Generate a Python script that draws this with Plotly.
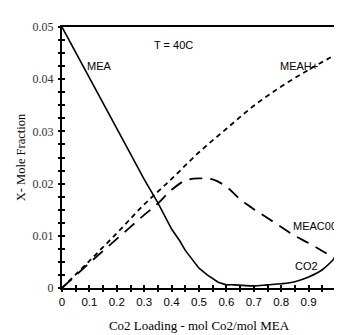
import plotly.graph_objects as go

# ---- data ----
mea_x = [0, 0.05, 0.10, 0.15, 0.20, 0.25, 0.30, 0.35, 0.40, 0.43, 0.45, 0.48, 0.50, 0.53, 0.57, 0.60]
mea_y = [0.0500, 0.0452, 0.0404, 0.0355, 0.0306, 0.0257, 0.0208, 0.0163, 0.0113, 0.0090, 0.0072, 0.0051, 0.0038, 0.0025, 0.0011, 0.0006]

co2_x = [0.60, 0.63, 0.66, 0.70, 0.75, 0.80, 0.85, 0.90, 0.95, 0.995]
co2_y = [0.0006, 0.0006, 0.0005, 0.0004, 0.0006, 0.0008, 0.0012, 0.0021, 0.0035, 0.0057]

meah_x = [0, 0.1, 0.2, 0.3, 0.4, 0.5, 0.6, 0.7, 0.8, 0.9, 0.995]
meah_y = [0, 0.0052, 0.0105, 0.0160, 0.0209, 0.0260, 0.0305, 0.0349, 0.0386, 0.0418, 0.0446]

meacoo_x = [0, 0.05, 0.1, 0.15, 0.2, 0.25, 0.3, 0.35, 0.4, 0.45, 0.5, 0.55, 0.6, 0.65, 0.7, 0.75, 0.8, 0.85, 0.9, 0.95, 0.995]
meacoo_y = [0, 0.0024, 0.0048, 0.0071, 0.0094, 0.0117, 0.0140, 0.0162, 0.0188, 0.0206, 0.0210, 0.0208, 0.0194, 0.0170, 0.0151, 0.0134, 0.0117, 0.0100, 0.0086, 0.0071, 0.0057]

x_tickvals = [i * 0.05 for i in range(20)]
x_ticktext = ["0", "", "0.1", "", "0.2", "", "0.3", "", "0.4", "", "0.5", "", "0.6", "", "0.7", "", "0.8", "", "0.9", ""]
y_tickvals = [i * 0.0025 for i in range(21)]
y_ticktext = ["0" if i == 0 else ("%.2f" % (i * 0.0025) if i % 4 == 0 else "") for i in range(21)]

labels = ["MEA", "T = 40C", "MEAH+", "MEAC00", "CO2"]
label_x = [0.136, 0.408, 0.864, 0.922, 0.893]
label_y = [0.0425, 0.0465, 0.0425, 0.0118, 0.0042]

fig = go.Figure()
fig.add_trace(go.Scatter(x=mea_x, y=mea_y, mode="lines", name="MEA",
                         line=dict(color="black", width=1.6)))
fig.add_trace(go.Scatter(x=co2_x, y=co2_y, mode="lines", name="CO2",
                         line=dict(color="black", width=1.6), line_shape="spline"))
fig.add_trace(go.Scatter(x=meah_x, y=meah_y, mode="lines", name="MEAH+",
                         line=dict(color="black", width=1.8, dash="5px,4px"), line_shape="spline"))
fig.add_trace(go.Scatter(x=meacoo_x, y=meacoo_y, mode="lines", name="MEACOO",
                         line=dict(color="black", width=1.8, dash="13px,8px"), line_shape="spline"))
# invisible trace for the inside-tick overlay axes
fig.add_trace(go.Scatter(x=[0], y=[0], xaxis="x2", yaxis="y2", mode="markers",
                         marker=dict(opacity=0), hoverinfo="skip", showlegend=False))

for t, lx, ly in zip(labels, label_x, label_y):
    fig.add_annotation(x=lx, y=ly, text=t, showarrow=False,
                       font=dict(family="Liberation Sans, Arial", size=11, color="black"))

xr = [0, 1.0]
yr = [0, 0.05]
fig.update_layout(
    width=342, height=335,
    margin=dict(l=54, r=12, t=14, b=48),
    paper_bgcolor="white", plot_bgcolor="white",
    showlegend=False,
    xaxis=dict(range=xr, tickmode="array", tickvals=x_tickvals, ticktext=x_ticktext,
               ticks="outside", ticklen=2, tickwidth=1.5, tickcolor="black",
               showline=True, linecolor="black", linewidth=2, mirror=True,
               showgrid=False, zeroline=False,
               tickfont=dict(family="Liberation Sans, Arial", size=11.5, color="black"),
               title=dict(text="Co2 Loading - mol Co2/mol MEA", standoff=14,
                          font=dict(family="Liberation Serif, Times New Roman", size=13, color="black"))),
    yaxis=dict(range=yr, tickmode="array", tickvals=y_tickvals, ticktext=y_ticktext,
               ticks="outside", ticklen=2, tickwidth=1.5, tickcolor="black",
               showline=True, linecolor="black", linewidth=2, mirror=True,
               showgrid=False, zeroline=False, ticklabelstandoff=2,
               tickfont=dict(family="Liberation Serif, Times New Roman", size=12, color="#333"),
               title=dict(text="X- Mole Fraction", standoff=4,
                          font=dict(family="Liberation Serif, Times New Roman", size=12.5, color="black"))),
    xaxis2=dict(range=xr, overlaying="x", anchor="y2", side="bottom",
                tickmode="array", tickvals=x_tickvals, ticks="inside", ticklen=3,
                tickwidth=1.5, tickcolor="black", showticklabels=False,
                showline=False, showgrid=False, zeroline=False),
    yaxis2=dict(range=yr, overlaying="y", anchor="x2", side="left",
                tickmode="array", tickvals=y_tickvals, ticks="inside", ticklen=3,
                tickwidth=1.5, tickcolor="black", showticklabels=False,
                showline=False, showgrid=False, zeroline=False),
)

fig.write_html("out.html")
